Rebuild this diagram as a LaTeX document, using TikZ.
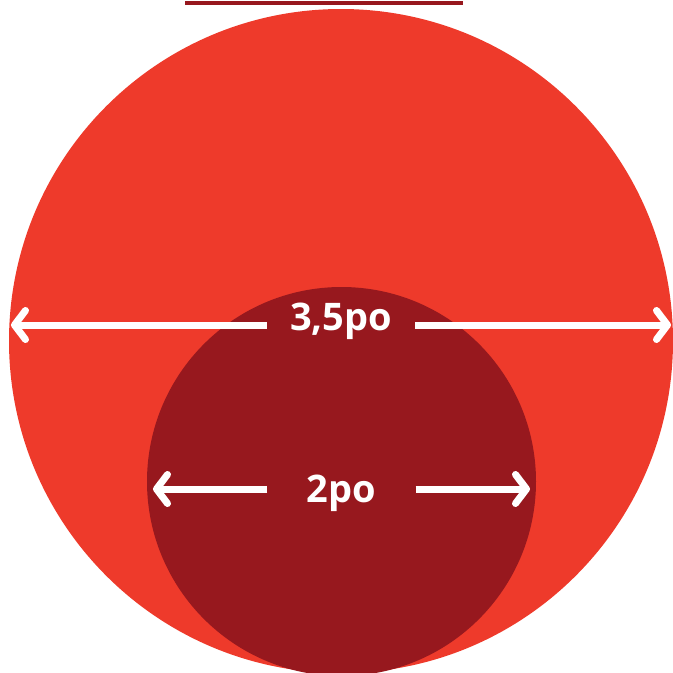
\documentclass[tikz,border=0pt]{standalone}
\usepackage{fontspec}
\setmainfont{Open Sans}
\usetikzlibrary{arrows.meta}
\definecolor{bigred}{RGB}{238,58,43}
\definecolor{darkred}{RGB}{151,24,30}

\begin{document}
\begin{tikzpicture}[x=1pt,y=-1pt,
    dimlbl/.style={font=\bfseries\fontsize{38}{40}\selectfont, text=white, minimum width=148pt, inner sep=0pt},
    arr/.style={-{Straight Barb[length=11pt,width=29pt,round]}, line width=7pt, white}
]
\useasboundingbox (0,0) rectangle (673,673);
\begin{scope}
\clip (0,0) rectangle (673,673);
\fill[bigred] (341,341) circle (332);
\fill[darkred] (341.5,481.5) circle (194.5);
\end{scope}
\draw[darkred, line width=4pt] (185,3) -- (463,3);

% outer size
\node[dimlbl, text height=30pt, text depth=20pt] (big) at (341,325) {3,5po};
\coordinate (bigL) at (11,325);
\coordinate (bigR) at (671,325);
\draw[arr] (big.west) -- (bigL);
\draw[arr] (big.east) -- (bigR);

% inner size
\node[dimlbl, text height=30pt, text depth=4pt] (small) at (341.5,489) {2po};
\coordinate (smallL) at (153,489);
\coordinate (smallR) at (530,489);
\draw[arr] (small.west) -- (smallL);
\draw[arr] (small.east) -- (smallR);
\end{tikzpicture}
\end{document}
